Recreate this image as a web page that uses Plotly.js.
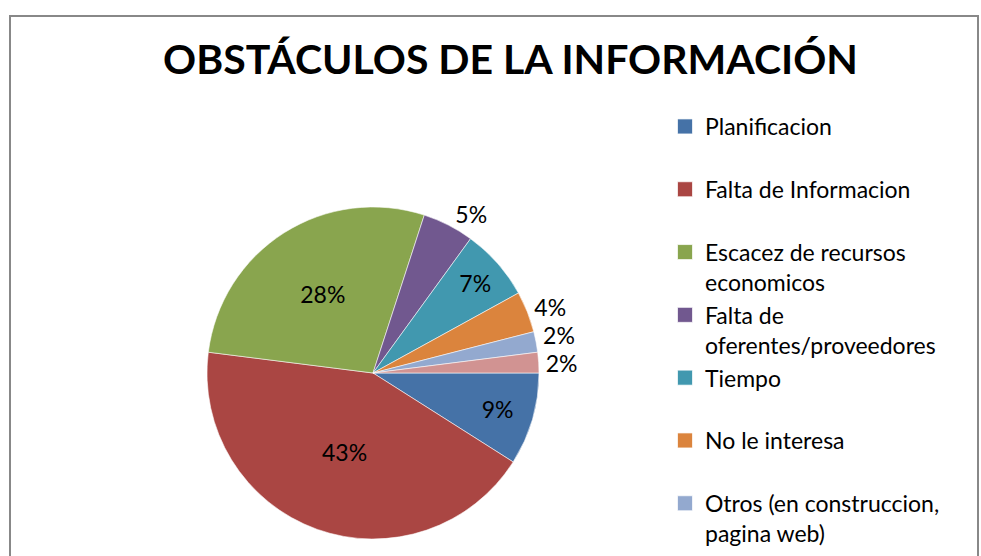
<!DOCTYPE html>
<html>
<head>
<meta charset="utf-8">
<script src="https://cdn.plot.ly/plotly-3.0.1.min.js"></script>
<style>
html, body { margin:0; padding:0; overflow:hidden; background:#fff; width:981px; height:556px; }
#frame { position:absolute; left:9px; top:15px; width:966px; height:541px; border:2px solid #888888; border-bottom:none; overflow:hidden; background:#fff; }
#chart { position:absolute; left:0; top:0; width:966px; height:640px; }
</style>
</head>
<body>
<div id="frame"><div id="chart"></div></div>
<script>
const chartTitle = "OBSTÁCULOS DE LA INFORMACIÓN";
const categories = [
  "Planificacion",
  "Falta de Informacion",
  "Escacez de recursos<br>economicos",
  "Falta de<br>oferentes/proveedores",
  "Tiempo",
  "No le interesa",
  "Otros (en construccion,<br>pagina web)",
  "Ninguno"
];
const values = [9, 43, 28, 5, 7, 4, 2, 2];
const colors = ["#4572A7", "#AA4643", "#89A54E", "#71588F", "#4198AF", "#DB843D", "#93A9CF", "#D19392"];
const labelPositions = ["inside", "inside", "inside", "outside", "inside", "outside", "outside", "outside"];

// pad single-line legend entries to two lines so every entry has the same height
const legendLabels = categories.map(c => c.indexOf("<br>") >= 0 ? c : c + "<br> ");

const W = 966, H = 640;
const cx = 362, cy = 356, r = 166;

const trace = {
  type: "pie",
  labels: legendLabels,
  values: values,
  sort: false,
  direction: "clockwise",
  rotation: 90,
  marker: { colors: colors, line: { color: "rgba(255,255,255,0.7)", width: 0.8 } },
  textinfo: "percent",
  textposition: labelPositions,
  insidetextorientation: "horizontal",
  textfont: { family: "Lato, sans-serif", size: 23, color: "#000" },
  outsidetextfont: { family: "Lato, sans-serif", size: 23, color: "#000" },
  hoverinfo: "label+percent",
  domain: { x: [(cx - r) / W, (cx + r) / W], y: [(H - cy - r) / H, (H - cy + r) / H] }
};

const layout = {
  width: W, height: H,
  margin: { l: 0, r: 0, t: 0, b: 0 },
  paper_bgcolor: "#fff",
  title: {
    text: "<b>" + chartTitle + "</b>",
    font: { family: "Lato, sans-serif", size: 41, color: "#000" },
    x: 499.5 / W, xref: "paper", xanchor: "center",
    y: 1 - 43 / H, yref: "container", yanchor: "middle"
  },
  showlegend: true,
  legend: {
    x: 654 / W, xanchor: "left",
    y: 1 - 88 / H, yanchor: "top",
    valign: "top",
    font: { family: "Lato, sans-serif", size: 23, color: "#000" },
    itemclick: false, itemdoubleclick: false,
    bgcolor: "rgba(0,0,0,0)"
  }
};

Plotly.newPlot("chart", [trace], layout, { displayModeBar: false, staticPlot: true }).then(() => {
  document.querySelectorAll("#chart .legendpoints path").forEach(p => {
    const t = p.getAttribute("transform") || "";
    p.setAttribute("transform", t + " scale(1.25)");
  });
  // the last legend entry lies below the visible frame in the reference
  const entries = document.querySelectorAll("#chart .legend .traces");
  if (entries.length > 7) entries[entries.length - 1].style.display = "none";
  // the tiny leader ticks Plotly adds next to nudged outside labels are not in the reference
  document.querySelectorAll("#chart path.textline").forEach(p => { p.style.display = "none"; });
});
</script>
</body>
</html>
